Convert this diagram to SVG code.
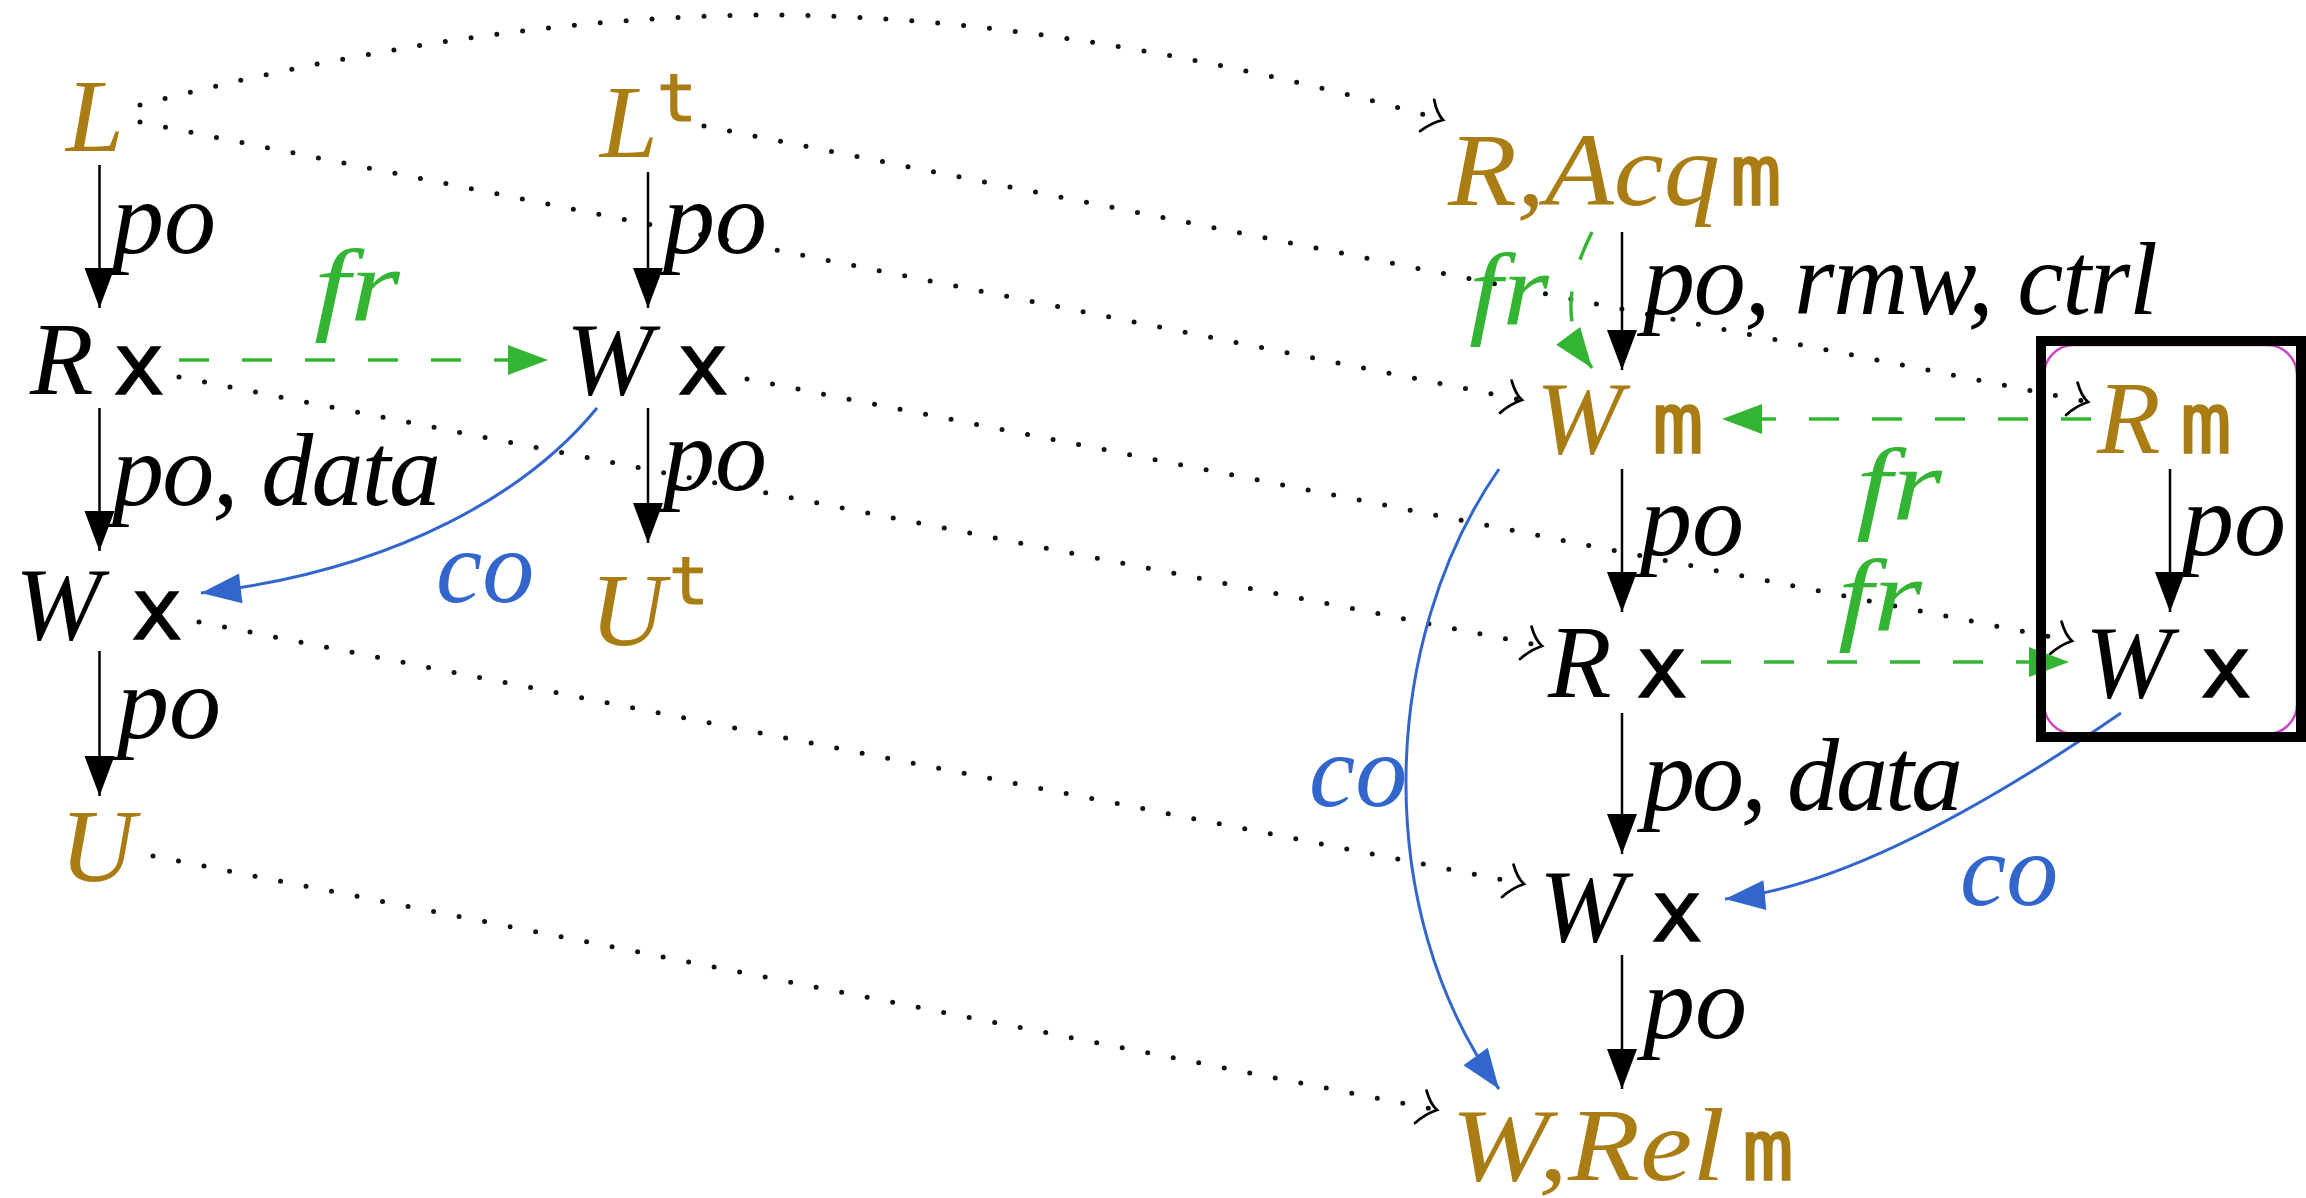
<svg xmlns="http://www.w3.org/2000/svg" width="2306" height="1198" viewBox="0 0 2306 1198">
<defs>
<style>
.it{font-family:"Liberation Serif","Times New Roman",serif;font-style:italic;font-size:104px}
.tt{font-family:"DejaVu Sans Mono","Liberation Mono",monospace;font-size:86px;stroke-width:1.6}
.sup{font-family:"DejaVu Sans Mono","Liberation Mono",monospace;font-size:66px;stroke-width:1.2}
.gold{fill:#A97C14}
.blk{fill:#000}
.tt.blk{stroke:#000}
.tt.gold,.sup.gold{stroke:#A97C14}
.grn{fill:#33B533}
.blu{fill:#3366CC}
.po{stroke:#000;stroke-width:2.5;fill:none;marker-end:url(#ab)}
.fr{stroke:#33B533;stroke-width:3.5;fill:none;stroke-dasharray:30 33;marker-end:url(#ag)}
.co{stroke:#3366CC;stroke-width:3;fill:none;marker-end:url(#au)}
.dot{stroke:#111;stroke-width:5;fill:none;stroke-dasharray:0 26;stroke-linecap:round;marker-end:url(#hk)}
</style>
<marker id="ab" markerUnits="userSpaceOnUse" markerWidth="44" markerHeight="34" refX="42" refY="17" orient="auto"><path d="M2,2 L42,17 L2,32 z" fill="#000"/></marker>
<marker id="ag" markerUnits="userSpaceOnUse" markerWidth="44" markerHeight="34" refX="42" refY="17" orient="auto"><path d="M2,2 L42,17 L2,32 z" fill="#33B533"/></marker>
<marker id="au" markerUnits="userSpaceOnUse" markerWidth="44" markerHeight="34" refX="42" refY="17" orient="auto"><path d="M2,2 L42,17 L2,32 z" fill="#3366CC"/></marker>
<marker id="hk" markerUnits="userSpaceOnUse" markerWidth="32" markerHeight="42" refX="26" refY="21" orient="auto"><path d="M12,4 C16,12 21,18 26,21 C19,25 13,30 7,38" fill="none" stroke="#000" stroke-width="2.8" stroke-linecap="round"/></marker>
</defs>
<rect width="2306" height="1198" fill="#fff"/>

<g id="connectors">
  <!-- dotted correspondence lines -->
  <path class="dot" d="M140,105 C330,55 560,15 770,15 C1000,15 1250,65 1443,120"/>
  <path class="dot" d="M140,122 L1522,400"/>
  <path class="dot" d="M704,126 L2088,402"/>
  <path class="dot" d="M747,379 L2072,641"/>
  <path class="dot" d="M179,377 L1542,646"/>
  <path class="dot" d="M199,622 L1524,884"/>
  <path class="dot" d="M153,856 L1437,1110"/>

  <!-- left program -->
  <path class="po" d="M99.5,165 L99.5,308"/>
  <text class="it blk" x="112" y="253">po</text>
  <path class="po" d="M648,172 L648,308"/>
  <text class="it blk" x="663" y="253">po</text>
  <path class="fr" d="M179,360 L548,360"/>
  <text class="it grn" x="314" y="321" textLength="86" lengthAdjust="spacingAndGlyphs">fr</text>
  <path class="po" d="M99.5,408 L99.5,551"/>
  <text class="it blk" x="112" y="505" textLength="329">po, data</text>
  <path class="po" d="M648,408 L648,543"/>
  <text class="it blk" x="663" y="490">po</text>
  <path class="co" d="M597,408 C530,490 400,570 201,593"/>
  <text class="it blu" x="436" y="602">co</text>
  <path class="po" d="M99.5,651 L99.5,796"/>
  <text class="it blk" x="117" y="738">po</text>

  <!-- right program -->
  <path class="po" d="M1622,232 L1622,370"/>
  <text class="it blk" x="1643" y="314" textLength="515">po, rmw, ctrl</text>
  <path class="fr" d="M1592,232 C1568,280 1560,325 1592,368"/>
  <text class="it grn" x="1469" y="325" textLength="80" lengthAdjust="spacingAndGlyphs">fr</text>
  <path class="fr" d="M2091,419 L1722,419"/>
  <text class="it grn" x="1856" y="520" textLength="86" lengthAdjust="spacingAndGlyphs">fr</text>
  <path class="po" d="M1622,469 L1622,612"/>
  <text class="it blk" x="1640" y="555">po</text>
  <path class="po" d="M2170,469 L2170,612"/>
  <text class="it blk" x="2182" y="555">po</text>
  <path class="fr" d="M1701,662 L2069,662"/>
  <text class="it grn" x="1838" y="631" textLength="84" lengthAdjust="spacingAndGlyphs">fr</text>
  <path class="co" d="M1499,469 C1380,640 1370,910 1499,1089"/>
  <text class="it blu" x="1309" y="806">co</text>
  <path class="po" d="M1622,713 L1622,854"/>
  <text class="it blk" x="1643" y="810" textLength="320">po, data</text>
  <path class="co" d="M2121,713 C2060,755 1870,885 1725,899"/>
  <text class="it blu" x="1960" y="905">co</text>
  <path class="po" d="M1622,955 L1622,1089"/>
  <text class="it blk" x="1643" y="1038">po</text>
</g>

<g id="highlight">
  <rect x="2044" y="345" width="253" height="389" rx="30" fill="none" stroke="#C845C8" stroke-width="2.5"/>
  <rect x="2041" y="341" width="260" height="396" fill="none" stroke="#000" stroke-width="10"/>
</g>

<g id="n-L"><text class="it gold" x="66" y="151">L</text></g>
<g id="n-Lt"><text class="it gold" x="600" y="157">L</text><text class="sup gold" x="657" y="121">t</text></g>
<g id="n-Rx1"><text class="it blk" x="30" y="394">R</text><text class="tt blk" x="113" y="394">x</text></g>
<g id="n-Wx1"><text class="it blk" x="566" y="394">W</text><text class="tt blk" x="677" y="394">x</text></g>
<g id="n-Wx2"><text class="it blk" x="15" y="639">W</text><text class="tt blk" x="131" y="639">x</text></g>
<g id="n-Ut"><text class="it gold" x="590" y="645">U</text><text class="sup gold" x="669" y="604">t</text></g>
<g id="n-U"><text class="it gold" x="60" y="881">U</text></g>

<g id="n-RAcq"><text class="it gold" x="1448" y="205" textLength="272" lengthAdjust="spacingAndGlyphs">R,Acq</text><text class="tt gold" x="1730" y="205">m</text></g>
<g id="n-Wm"><text class="it gold" x="1536" y="453">W</text><text class="tt gold" x="1652" y="453">m</text></g>
<g id="n-Rm"><text class="it gold" x="2097" y="453">R</text><text class="tt gold" x="2180" y="453">m</text></g>
<g id="n-Rx2"><text class="it blk" x="1548" y="697">R</text><text class="tt blk" x="1636" y="697">x</text></g>
<g id="n-Wx3"><text class="it blk" x="2085" y="697">W</text><text class="tt blk" x="2200" y="697">x</text></g>
<g id="n-Wx4"><text class="it blk" x="1539" y="941">W</text><text class="tt blk" x="1651" y="941">x</text></g>
<g id="n-WRel"><text class="it gold" x="1451" y="1180" textLength="274" lengthAdjust="spacingAndGlyphs">W,Rel</text><text class="tt gold" x="1742" y="1180">m</text></g>
</svg>
